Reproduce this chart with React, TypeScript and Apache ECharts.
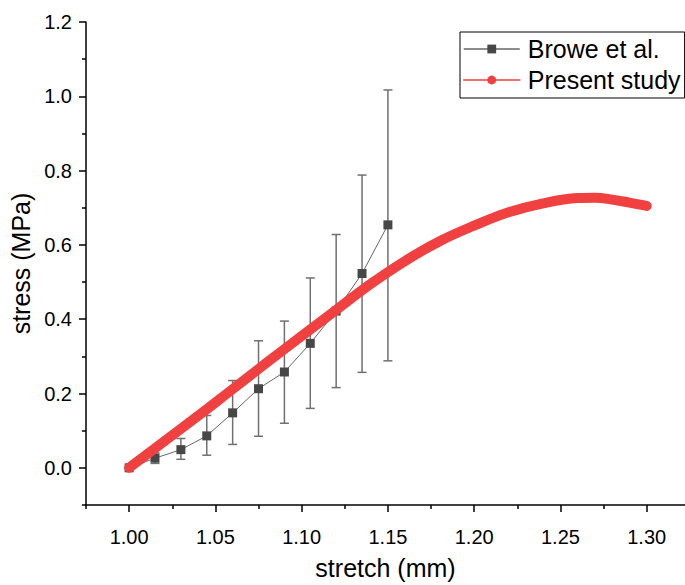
import React, { useEffect, useRef } from "react";
import * as echarts from "echarts";

// Browe et al. (experimental, with error bars)
const broweStretch = [1.0, 1.015, 1.03, 1.045, 1.06, 1.075, 1.09, 1.105, 1.12, 1.135, 1.15];
const broweStress = [0.0, 0.026, 0.049, 0.086, 0.148, 0.213, 0.258, 0.335, 0.422, 0.523, 0.654];
const broweUpper = [0.0, 0.04, 0.079, 0.141, 0.235, 0.342, 0.395, 0.511, 0.628, 0.788, 1.017];
const broweLower = [0.0, 0.012, 0.023, 0.034, 0.063, 0.085, 0.12, 0.16, 0.216, 0.257, 0.288];

// Present study
const presentStretch = [1.0, 1.02, 1.04, 1.06, 1.08, 1.1, 1.12, 1.14, 1.16, 1.18, 1.2, 1.22, 1.24, 1.26, 1.27, 1.28, 1.29, 1.3];
const presentStress = [0.0, 0.07, 0.14, 0.212, 0.284, 0.355, 0.425, 0.495, 0.557, 0.61, 0.652, 0.688, 0.712, 0.726, 0.727, 0.722, 0.714, 0.705];

// Axis ticks
const xMajorTicks = [1.0, 1.05, 1.1, 1.15, 1.2, 1.25, 1.3];
const xMinorTicks = [0.975, 1.025, 1.075, 1.125, 1.175, 1.225, 1.275];
const yMajorTicks = [0.0, 0.2, 0.4, 0.6, 0.8, 1.0, 1.2];
const yMinorTicks = [-0.1, 0.1, 0.3, 0.5, 0.7, 0.9, 1.1];

const FONT = "Liberation Sans, Arial, sans-serif";

export default function App() {
  const ref = useRef<HTMLDivElement>(null);

  useEffect(() => {
    if (!ref.current) return;
    const chart = echarts.init(ref.current, null, { renderer: "svg" });

    const xMin = 0.975;
    const xMax = 1.3222;
    const yMin = -0.1;
    const yMax = 1.2;

    const axisLineStyle = { color: "#000", width: 1.5 };

    const option: any = {
      animation: false,
      backgroundColor: "#fff",
      textStyle: { fontFamily: FONT },
      grid: { left: 86, right: 0, top: 22, bottom: 77, containLabel: false },
      legend: {
        data: ["Browe et al.", "Present study"],
        orient: "vertical",
        left: 460,
        top: 32,
        padding: [4, 4, 5, 3],
        itemGap: 5,
        itemWidth: 56,
        itemHeight: 11,
        borderColor: "#000",
        borderWidth: 1,
        borderRadius: 0,
        backgroundColor: "#fff",
        lineStyle: { width: 1.5 },
        textStyle: {
          fontSize: 25,
          lineHeight: 26,
          color: "#000",
          fontFamily: FONT,
          padding: [0, 0, 0, 3],
        },
      },
      xAxis: [
        {
          type: "value",
          min: xMin,
          max: xMax,
          position: "bottom",
          name: "stretch (mm)",
          nameLocation: "middle",
          nameGap: 50,
          nameTextStyle: { fontSize: 25, color: "#000", fontFamily: FONT },
          axisLine: { show: true, onZero: false, lineStyle: axisLineStyle },
          axisTick: {
            show: true,
            inside: false,
            length: 7,
            customValues: xMajorTicks,
            lineStyle: { color: "#000", width: 1.5 },
          },
          axisLabel: {
            customValues: xMajorTicks,
            margin: 22,
            fontSize: 20,
            color: "#000",
            fontFamily: FONT,
            formatter: (v: number) => v.toFixed(2),
          },
          splitLine: { show: false },
        },
        {
          type: "value",
          min: xMin,
          max: xMax,
          position: "bottom",
          axisLine: { show: false, onZero: false },
          axisTick: {
            show: true,
            inside: false,
            length: 4,
            customValues: xMinorTicks,
            lineStyle: { color: "#000", width: 1.5 },
          },
          axisLabel: { show: false },
          splitLine: { show: false },
        },
      ],
      yAxis: [
        {
          type: "value",
          min: yMin,
          max: yMax,
          position: "left",
          name: "stress (MPa)",
          nameLocation: "middle",
          nameGap: 47,
          nameTextStyle: { fontSize: 25, color: "#000", fontFamily: FONT },
          axisLine: { show: true, onZero: false, lineStyle: axisLineStyle },
          axisTick: {
            show: true,
            inside: false,
            length: 7,
            customValues: yMajorTicks,
            lineStyle: { color: "#000", width: 1.5 },
          },
          axisLabel: {
            customValues: yMajorTicks,
            margin: 14,
            fontSize: 20,
            color: "#000",
            fontFamily: FONT,
            formatter: (v: number) => v.toFixed(1),
          },
          splitLine: { show: false },
        },
        {
          type: "value",
          min: yMin,
          max: yMax,
          position: "left",
          axisLine: { show: false, onZero: false },
          axisTick: {
            show: true,
            inside: false,
            length: 4,
            customValues: yMinorTicks,
            lineStyle: { color: "#000", width: 1.5 },
          },
          axisLabel: { show: false },
          splitLine: { show: false },
        },
      ],
      series: [
        {
          type: "custom",
          name: "errors",
          xAxisIndex: 0,
          yAxisIndex: 0,
          z: 1,
          silent: true,
          data: broweStretch.map((x, i) => [x, broweLower[i], broweUpper[i]]),
          encode: { x: 0, y: [1, 2] },
          renderItem: (params: any, api: any) => {
            const x = api.value(0);
            const lo = api.value(1);
            const hi = api.value(2);
            if (hi - lo <= 0) return { type: "group", children: [] };
            const pHi = api.coord([x, hi]);
            const pLo = api.coord([x, lo]);
            const cap = 4.5;
            const style = { stroke: "#707070", lineWidth: 1.5, fill: "none" };
            return {
              type: "group",
              children: [
                { type: "line", shape: { x1: pHi[0], y1: pHi[1], x2: pLo[0], y2: pLo[1] }, style },
                { type: "line", shape: { x1: pHi[0] - cap, y1: pHi[1], x2: pHi[0] + cap, y2: pHi[1] }, style },
                { type: "line", shape: { x1: pLo[0] - cap, y1: pLo[1], x2: pLo[0] + cap, y2: pLo[1] }, style },
              ],
            };
          },
        },
        {
          type: "line",
          name: "Browe et al.",
          xAxisIndex: 0,
          yAxisIndex: 0,
          z: 2,
          data: broweStretch.map((x, i) => [x, broweStress[i]]),
          symbol: "rect",
          symbolSize: 9,
          showSymbol: true,
          itemStyle: { color: "#474747" },
          lineStyle: { color: "#666666", width: 1 },
        },
        {
          type: "line",
          name: "Present study",
          xAxisIndex: 0,
          yAxisIndex: 0,
          z: 3,
          data: presentStretch.map((x, i) => [x, presentStress[i]]),
          smooth: 0.4,
          symbol: "circle",
          showSymbol: false,
          itemStyle: { color: "#f04040" },
          lineStyle: { color: "#f04040", width: 10, cap: "round", join: "round" },
        },
      ],
    };

    chart.setOption(option);
    return () => chart.dispose();
  }, []);

  return (
    <div
      ref={ref}
      style={{ position: "absolute", left: 0, top: 0, width: 685, height: 585, background: "#fff" }}
    />
  );
}
